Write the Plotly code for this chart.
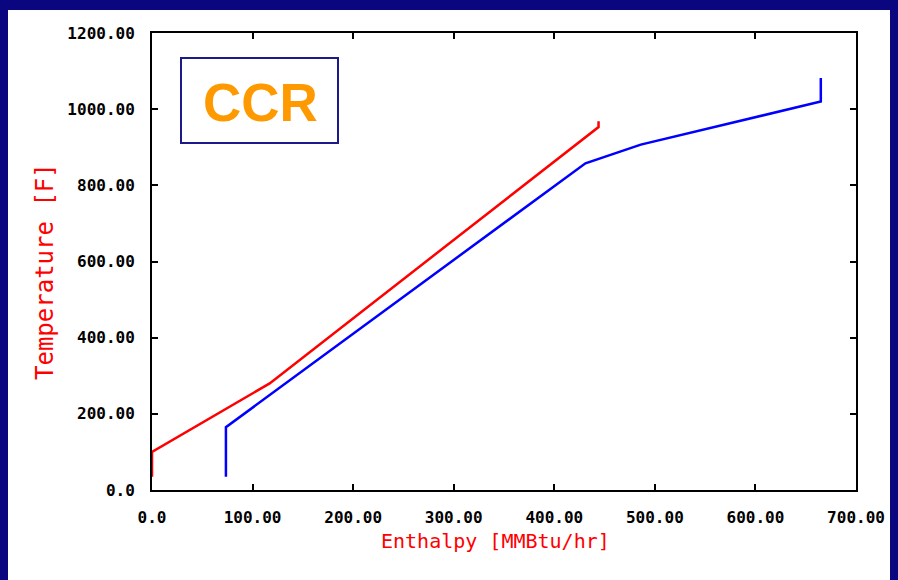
import plotly.graph_objects as go

# Data
hot_enthalpy = [0, 0, 117, 444, 444]          # MMBtu/hr
hot_temp = [35, 100, 280, 953, 968]            # F
cold_enthalpy = [73.5, 73.5, 431, 486, 665, 665]
cold_temp = [35, 165, 858, 907, 1020, 1082]

x_ticks = [0, 100, 200, 300, 400, 500, 600, 700]
x_labels = ["0.0", "100.00", "200.00", "300.00", "400.00", "500.00", "600.00", "700.00"]
y_ticks = [0, 200, 400, 600, 800, 1000, 1200]
y_labels = ["0.0", "200.00", "400.00", "600.00", "800.00", "1000.00", "1200.00"]

W, H = 898, 580
L, R, T, B = 152, 42, 33, 90
pw, ph = W - L - R, H - T - B

def px(x):
    return (x - L) / pw

def py(y):
    return (H - B - y) / ph

fig = go.Figure()
fig.add_trace(go.Scatter(x=hot_enthalpy, y=hot_temp, mode="lines",
                         line=dict(color="#ff0000", width=2.5), showlegend=False))
fig.add_trace(go.Scatter(x=cold_enthalpy, y=cold_temp, mode="lines",
                         line=dict(color="#0000ff", width=2.5), showlegend=False))

tickfont = dict(family="DejaVu Sans Mono", size=16, color="black", weight="bold")
axis_common = dict(showline=True, linecolor="black", linewidth=2, mirror="ticks",
                   ticks="inside", ticklen=6, tickwidth=2, tickcolor="black",
                   showgrid=False, zeroline=False, tickfont=tickfont,
                   ticklabelstandoff=12)

fig.update_xaxes(range=[0, 700], tickvals=x_ticks, ticktext=x_labels, **axis_common)
fig.update_yaxes(range=[0, 1200], tickvals=y_ticks, ticktext=y_labels, **axis_common)

shapes = [
    # white slide area
    dict(type="rect", xref="paper", yref="paper", x0=px(8), x1=px(890), y0=py(580), y1=py(10),
         fillcolor="white", line=dict(width=0), layer="below"),
    # CCR box
    dict(type="rect", xref="paper", yref="paper", x0=px(181), x1=px(338), y0=py(143), y1=py(58),
         fillcolor="rgba(0,0,0,0)", line=dict(color="#1c1a8a", width=2)),
]

annotations = [
    dict(text="CCR", xref="paper", yref="paper", x=px(260), y=py(102), showarrow=False,
         xanchor="center", yanchor="middle",
         font=dict(family="Liberation Sans", size=53, color="#ff9900", weight="bold")),
    dict(text="Enthalpy [MMBtu/hr]", xref="paper", yref="paper", x=px(495), y=py(541),
         showarrow=False, xanchor="center", yanchor="middle",
         font=dict(family="DejaVu Sans Mono", size=20, color="#ff0000")),
    dict(text="Temperature [F]", xref="paper", yref="paper", x=px(45), y=py(272),
         showarrow=False, xanchor="center", yanchor="middle", textangle=-90,
         font=dict(family="DejaVu Sans Mono", size=24, color="#ff0000")),
]

fig.update_layout(width=W, height=H, margin=dict(l=L, r=R, t=T, b=B, autoexpand=False),
                  paper_bgcolor="#0a0680", plot_bgcolor="white",
                  shapes=shapes, annotations=annotations)

fig.write_html("out.html")
